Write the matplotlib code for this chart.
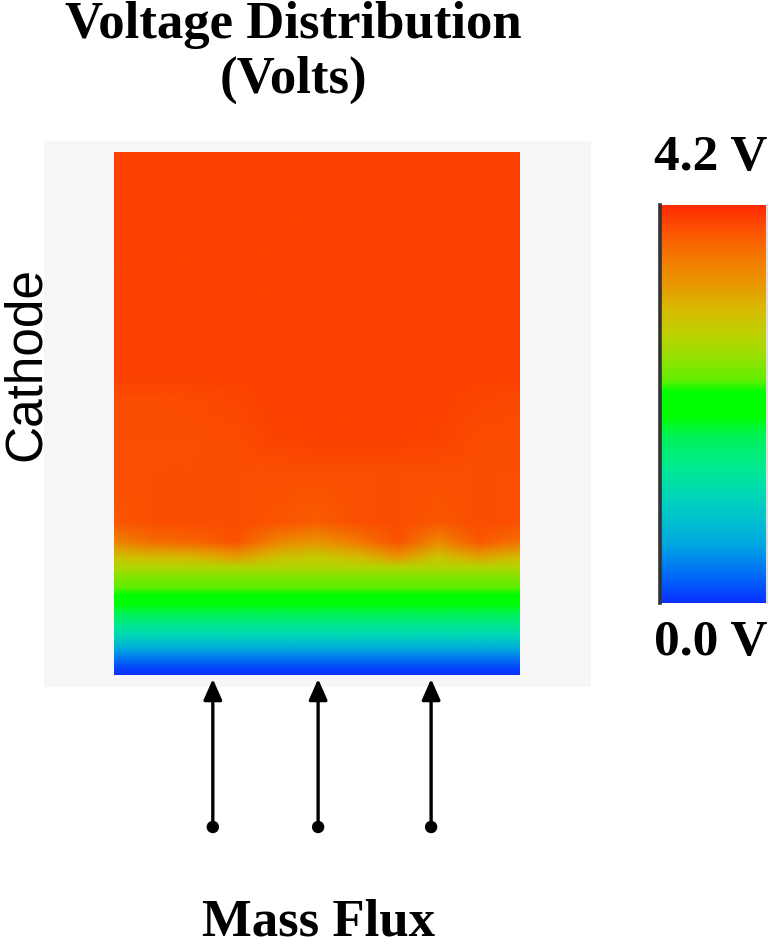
import numpy as np
import matplotlib
matplotlib.use("Agg")
import matplotlib.pyplot as plt
from matplotlib.colors import LinearSegmentedColormap, Normalize
from matplotlib.cm import ScalarMappable
from matplotlib.patches import FancyArrowPatch, Circle
from matplotlib.image import NonUniformImage

# ---- data ----
v_min, v_max = 0.0, 4.2
# column positions across the cathode (fraction of width)
col_pos = [0.0, 0.1, 0.2, 0.3, 0.4, 0.5, 0.6, 0.7, 0.8, 0.9, 1.0]
# row heights (fraction of cathode height, from bottom)
row_pos = [0.0, 0.0134, 0.0326, 0.0517, 0.0728, 0.0958, 0.115, 0.134, 0.153,
           0.167, 0.186, 0.205, 0.224, 0.255, 0.293, 0.393, 0.450, 0.527,
           0.575, 1.0]
# voltage values (V), rows bottom -> top, columns left -> right
volt = [
    [0.00] * 11,
    [0.12] * 11,
    [0.40] * 11,
    [0.70] * 11,
    [1.10] * 11,
    [1.45] * 11,
    [1.75] * 11,
    [1.95] * 11,
    [2.20] * 11,
    [2.35] * 11,
    [2.50] * 11,
    [2.75] * 11,
    [3.00, 3.05, 3.10, 3.30, 3.00, 2.90, 3.05, 3.35, 2.95, 3.25, 3.05],
    [3.55, 3.75, 3.80, 3.93, 3.55, 3.40, 3.65, 3.93, 3.50, 3.90, 3.70],
    [3.90, 3.95, 3.96, 3.96, 3.92, 3.85, 3.94, 3.96, 3.90, 3.96, 3.94],
    [3.95] * 11,
    [3.95, 3.95, 3.95, 3.96, 4.02, 4.03, 4.03, 4.03, 4.02, 3.96, 3.95],
    [3.96, 3.96, 3.97, 4.00, 4.04, 4.04, 4.04, 4.04, 4.04, 4.00, 3.98],
    [4.04] * 11,
    [4.04] * 11,
]
cmap_stops = [0.00, 0.06, 0.15, 0.25, 0.33, 0.42, 0.47, 0.53, 0.56, 0.62,
              0.68, 0.74, 0.80, 0.87, 0.93, 1.00]
cmap_colors = ["#0a30ff", "#0062f8", "#00a8e0", "#00d0c0", "#00e898",
               "#00f258", "#00ff00", "#00ff00", "#60ee00", "#98e000",
               "#c0d000", "#d8b800", "#e89800", "#f47800", "#fb5600",
               "#ff2800"]
arrow_pos = [0.244, 0.504, 0.783]

cmap = LinearSegmentedColormap.from_list("volt", list(zip(cmap_stops, cmap_colors)), N=512)
norm = Normalize(v_min, v_max)

W, H = 773, 946
fig = plt.figure(figsize=(W / 100, H / 100), dpi=100)
fig.patch.set_facecolor("white")

def blank(a):
    a.set_xticks([]); a.set_yticks([])
    for s in a.spines.values():
        s.set_visible(False)

# gray panel
panel = fig.add_axes([44 / W, 1 - 687 / H, 547 / W, 546 / H])
panel.set_facecolor("#f6f6f6")
blank(panel)

# cathode field
ax = fig.add_axes([114 / W, 1 - 675 / H, 405 / W, 522 / H])
ax.set_facecolor("none")
im = NonUniformImage(ax, interpolation="bilinear", cmap=cmap, norm=norm,
                     extent=(col_pos[0], col_pos[-1], row_pos[0], row_pos[-1]))
im.set_data(np.array(col_pos), np.array(row_pos), np.array(volt))
ax.add_image(im)
ax.set_xlim(col_pos[0], col_pos[-1])
ax.set_ylim(row_pos[0], row_pos[-1])
blank(ax)

# colorbar
cax = fig.add_axes([660 / W, 1 - 603 / H, 107 / W, 398 / H])
cb = fig.colorbar(ScalarMappable(norm=norm, cmap=cmap), cax=cax)
cb.outline.set_visible(False)
cax.set_yticks([]); cax.set_xticks([])
cax.plot([0, 0], [0, 1], color="#333333", lw=2.6, transform=cax.transAxes, clip_on=False)
cax.plot([1, 1], [0, 1], color="#dddddd", lw=1.5, transform=cax.transAxes, clip_on=False)

serif = ["Liberation Serif", "DejaVu Serif"]
fig.text(293 / W, 1 - 1 / H, "Voltage Distribution\n(Volts)", ha="center", va="top",
         fontsize=38, fontweight="bold", family=serif, linespacing=1.18)
fig.text(711 / W, 1 - 158 / H, f"{v_max:.1f} V", ha="center", va="center",
         fontsize=37, fontweight="bold", family=serif)
fig.text(711 / W, 1 - 643 / H, f"{v_min:.1f} V", ha="center", va="center",
         fontsize=37, fontweight="bold", family=serif)
fig.text(318 / W, 1 - 922 / H, "Mass Flux", ha="center", va="center",
         fontsize=38, fontweight="bold", family=serif)
fig.text(26 / W, 1 - 364 / H, "Cathode", ha="center", va="center", rotation=90,
         fontsize=37, family=["Liberation Sans", "DejaVu Sans"])

# mass-flux arrows
for p in arrow_pos:
    xf = (114 + p * 405) / W
    y0 = 1 - 827 / H
    y1 = 1 - 679 / H
    fig.add_artist(FancyArrowPatch(
        (xf, y0), (xf, y1), transform=fig.transFigure,
        arrowstyle="-|>,head_length=0.9,head_width=0.4", mutation_scale=14,
        color="black", lw=2.4, shrinkA=0, shrinkB=0))
    fig.add_artist(Circle((xf * W, (1 - 827 / H) * H), 5.5,
                          transform=None, color="black"))

fig.savefig("out.png", dpi=100)
